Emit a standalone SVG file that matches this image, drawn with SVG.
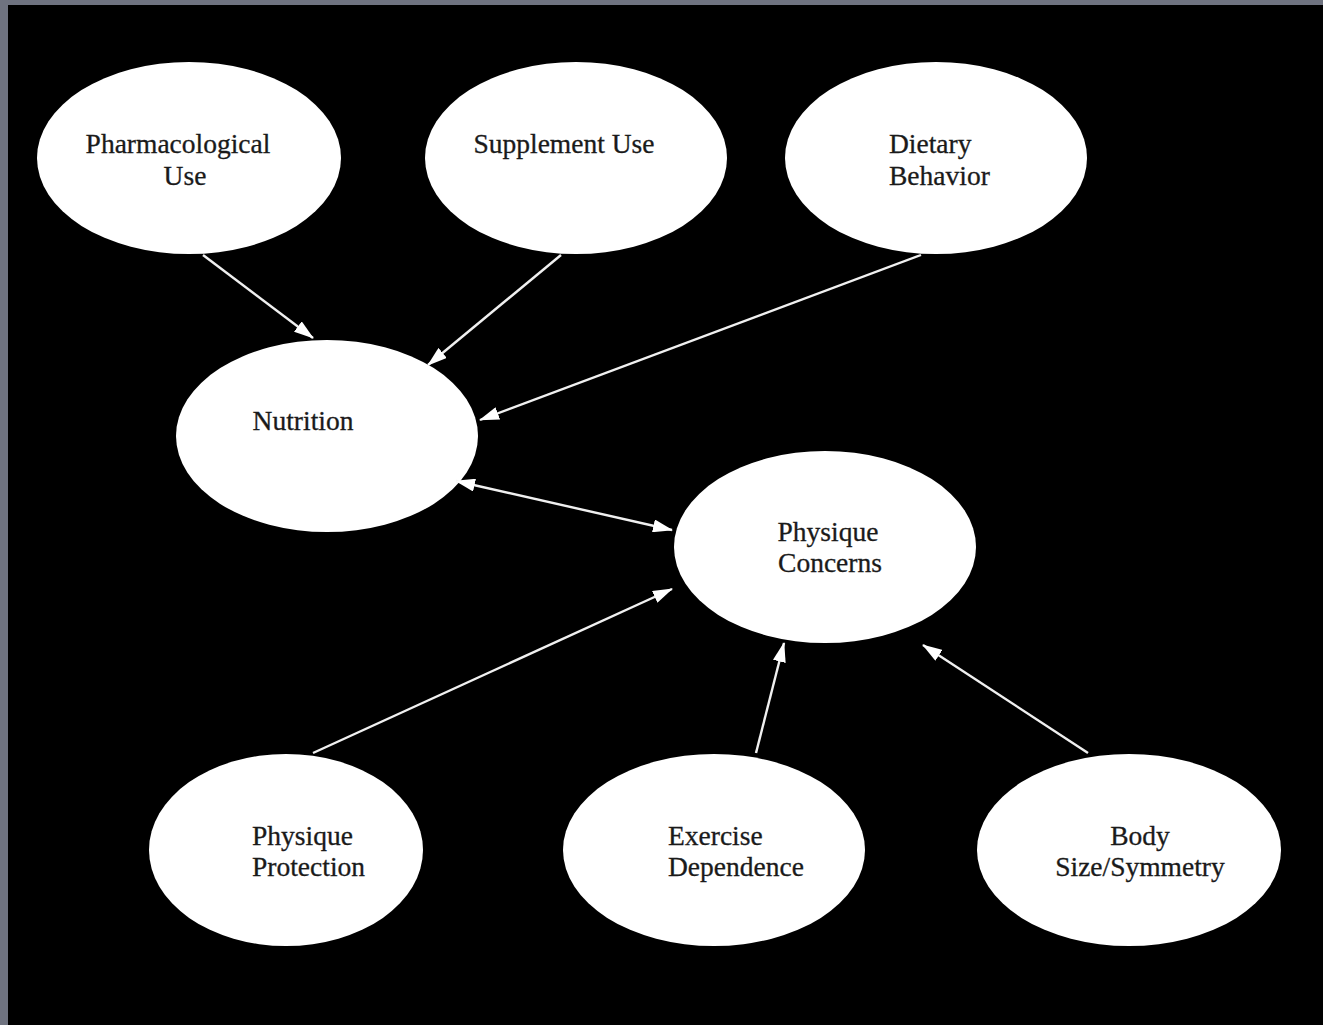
<svg xmlns="http://www.w3.org/2000/svg" width="1323" height="1025" viewBox="0 0 1323 1025">
  <defs>
    <marker id="head" viewBox="0 0 20 13" refX="19" refY="6.5" markerWidth="20" markerHeight="13" markerUnits="userSpaceOnUse" orient="auto-start-reverse">
      <path d="M0,0 L20,6.5 L0,13 Z" fill="#ffffff"/>
    </marker>
  </defs>
  <style>
    .node ellipse { fill: #ffffff; }
    .node text { font-family: "Liberation Serif", "Times New Roman", serif; font-size: 27.5px; fill: #1a1a1a; stroke: #1a1a1a; stroke-width: 0.3; }
    .edge { stroke: #f0f0f0; stroke-width: 2.4; fill: none; marker-end: url(#head); }
    .both { marker-start: url(#head); }
  </style>

  <!-- frame -->
  <rect x="0" y="0" width="1323" height="1025" fill="#6f7380"/>
  <rect x="8" y="5" width="1315" height="1020" fill="#000000"/>

  <g id="pharmacological-use" class="node">
    <ellipse cx="189" cy="158" rx="152" ry="96"/>
    <text x="178" y="153" text-anchor="middle">Pharmacological</text>
    <text x="185" y="185" text-anchor="middle">Use</text>
  </g>

  <g id="supplement-use" class="node">
    <ellipse cx="576" cy="158" rx="151" ry="96"/>
    <text x="564" y="153" text-anchor="middle">Supplement Use</text>
  </g>

  <g id="dietary-behavior" class="node">
    <ellipse cx="936" cy="158" rx="151" ry="96"/>
    <text x="889" y="153">Dietary</text>
    <text x="889" y="185">Behavior</text>
  </g>

  <g id="nutrition" class="node">
    <ellipse cx="327" cy="436" rx="151" ry="96"/>
    <text x="303" y="430" text-anchor="middle">Nutrition</text>
  </g>

  <g id="physique-concerns" class="node">
    <ellipse cx="825" cy="547" rx="151" ry="96"/>
    <text x="828" y="541" text-anchor="middle">Physique</text>
    <text x="830" y="572" text-anchor="middle">Concerns</text>
  </g>

  <g id="physique-protection" class="node">
    <ellipse cx="286" cy="850" rx="137" ry="96"/>
    <text x="252" y="845">Physique</text>
    <text x="252" y="876">Protection</text>
  </g>

  <g id="exercise-dependence" class="node">
    <ellipse cx="714" cy="850" rx="151" ry="96"/>
    <text x="668" y="845">Exercise</text>
    <text x="668" y="876">Dependence</text>
  </g>

  <g id="body-size-symmetry" class="node">
    <ellipse cx="1129" cy="850" rx="152" ry="96"/>
    <text x="1140" y="845" text-anchor="middle">Body</text>
    <text x="1140" y="876" text-anchor="middle">Size/Symmetry</text>
  </g>

  <g id="connectors">
    <line class="edge" x1="203" y1="255" x2="313" y2="338"/>
    <line class="edge" x1="561" y1="255" x2="428" y2="365"/>
    <line class="edge" x1="921" y1="255" x2="480" y2="420"/>
    <line class="edge both" x1="456" y1="481" x2="672" y2="530"/>
    <line class="edge" x1="313" y1="753" x2="672" y2="589"/>
    <line class="edge" x1="756" y1="753" x2="784" y2="643"/>
    <line class="edge" x1="1088" y1="753" x2="923" y2="645"/>
  </g>
</svg>
